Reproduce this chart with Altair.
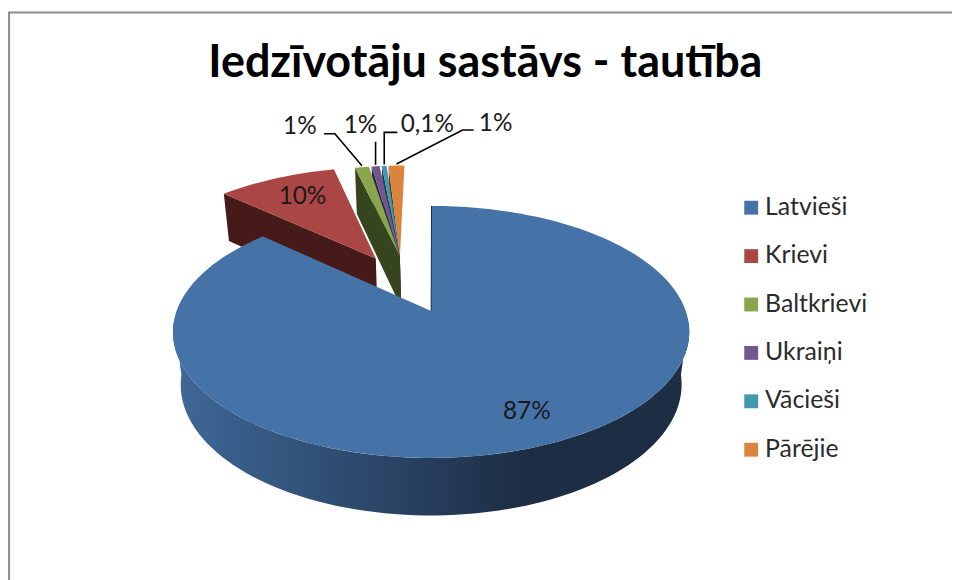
import math
import altair as alt

TITLE = "Iedzīvotāju sastāvs - tautība"
CATEGORIES = ["Latvieši", "Krievi", "Baltkrievi", "Ukraiņi", "Vācieši", "Pārējie"]
SHARES = [86.9, 9.3, 1.1, 0.83, 0.55, 1.39]
PCT_LABELS = ["87%", "10%", "1%", "1%", "0,1%", "1%"]
COLORS = ["#4572A7", "#AA4643", "#89A54E", "#71588F", "#4198AF", "#DB843D"]
DARK = ["#1C2D44", "#451A18", "#36451E", "#2D2339", "#1A3D46", "#5A3518"]

# --- 3D view model (styling only, not data) ---
CX, CY, RX, RY, DEPTH, K, M = 432.0, 311.0, 254.4, 122.5, 54.0, 0.1667, 0.03
EXPLODE = [(-0.01, -0.005), (-0.245, -0.466), (-0.1434, -0.485), (-0.1434, -0.485), (-0.1434, -0.485), (-0.1434, -0.485)]
GAP = [0.0, 0.0, 0.0, 0.75, 0.65, 0.55]


def pt(X, Y, Z=0.0):
    w = 1 - K * Y + M * Z
    return [CX + RX * X / w, CY + (RY * Y + DEPTH * Z) / w]


def rim(i, deg, Z=0.0):
    ox, oy = EXPLODE[i]
    t = math.radians(deg)
    return pt(ox + math.sin(t), oy - math.cos(t), Z)


def hub(i, Z=0.0):
    return pt(EXPLODE[i][0], EXPLODE[i][1], Z)


def poly(name, coords):
    return {"type": "Feature", "properties": {"face": name},
            "geometry": {"type": "Polygon", "coordinates": [coords + [coords[0]]]}}


def line(name, coords):
    return {"type": "Feature", "properties": {"face": name},
            "geometry": {"type": "LineString", "coordinates": coords}}


total = sum(SHARES)
edges = [0.0]
for s in SHARES:
    edges.append(edges[-1] + s / total * 360)


def sector(i):
    a, b = edges[i] + GAP[i], edges[i + 1]
    n = max(4, int((b - a) / 1.5))
    return [hub(i)] + [rim(i, a + (b - a) * j / n) for j in range(n + 1)]


def cut(i):
    a = edges[i] + GAP[i]
    return [rim(i, a), hub(i), hub(i, 1), rim(i, a, 1)]


dark_names = [c + " (mala)" for c in CATEGORIES]
faces = []
for i in [1, 5, 4, 3, 2]:
    faces.append(poly(dark_names[i], cut(i)))
    faces.append(poly(CATEGORIES[i], sector(i)))

wall_top = [rim(0, 95 + j) for j in range(0, 171, 2)]
wall_bot = [rim(0, 265 - j, 1) for j in range(0, 171, 2)]
wall = [poly("wall", wall_top + wall_bot)]
blue_top = [poly(CATEGORIES[0], sector(0))]

color = alt.Color(
    "properties.face:N",
    scale=alt.Scale(domain=CATEGORIES + dark_names, range=COLORS + DARK),
    legend=alt.Legend(
        values=CATEGORIES, title=None, orient="none",
        legendX=730.8, legendY=187.3,
        symbolType="square", symbolSize=193, symbolStrokeWidth=0,
        labelFont="Lato", labelFontSize=24.8, labelColor="#2b2b2b",
        labelOffset=1.5, rowPadding=22.4, symbolOpacity=1,
    ),
)

face_layer = alt.Chart(alt.Data(values=faces)).mark_geoshape(strokeWidth=0).encode(color=color)
wall_layer = alt.Chart(alt.Data(values=wall)).mark_geoshape(
    strokeWidth=0,
    fill=alt.LinearGradient(
        gradient="linear", x1=0, x2=1, y1=0, y2=0,
        stops=[alt.GradientStop(color="#3F6899", offset=0),
               alt.GradientStop(color="#2A4465", offset=0.42),
               alt.GradientStop(color="#1C2D44", offset=0.68),
               alt.GradientStop(color="#1C2D44", offset=1)]),
)
top_layer = alt.Chart(alt.Data(values=blue_top)).mark_geoshape(strokeWidth=0).encode(color=color)

seam = alt.Chart(alt.Data(values=[line("seam", [rim(0, 0), hub(0)])])).mark_geoshape(
    filled=False, stroke="#1C2D44", strokeWidth=1)

# chart frame
frame = alt.Chart(alt.Data(values=[line("f", [[8, 600], [8, 12.5], [1000, 12.5]])])).mark_geoshape(
    filled=False, stroke="#8C8C8C", strokeWidth=2)

# leader lines for the small slices: from the slice rim, through an elbow, toward the label
ELBOW = {2: [(-27, -32), (-38, -32)], 3: [(0, -23)], 4: [(0, -32), (13, -32)], 5: [(66, -34), (77, -34)]}
LABEL_AT = {2: (-62, -39), 3: (-15, -39), 4: (43, -39), 5: (99, -40)}
leaders, text_rows = [], []
for i in [2, 3, 4, 5]:
    mid = (edges[i] + GAP[i] + edges[i + 1]) / 2
    a = rim(i, mid)
    a = [a[0], a[1] - 1.5]
    leaders.append(line("l", [a] + [[a[0] + dx, a[1] + dy] for dx, dy in ELBOW[i]]))
    text_rows.append({"t": PCT_LABELS[i], "lon": a[0] + LABEL_AT[i][0], "lat": a[1] + LABEL_AT[i][1]})

text_rows.append({"t": PCT_LABELS[0], "lon": 525.0, "lat": 411.0})
text_rows.append({"t": PCT_LABELS[1], "lon": 301.0, "lat": 197.0})

leader_layer = alt.Chart(alt.Data(values=leaders)).mark_geoshape(
    filled=False, stroke="#000000", strokeWidth=1.6)
text_layer = alt.Chart(alt.Data(values=text_rows)).mark_text(
    font="Lato", fontSize=24.3, color="#1a1a1a", align="center", baseline="middle"
).encode(longitude="lon:Q", latitude="lat:Q", text="t:N")

chart = alt.layer(frame, face_layer, wall_layer, top_layer, seam, leader_layer, text_layer).project(
    type="identity", scale=1.0015, translate=[-6.94, -7.91]
).properties(
    width=944, height=572,
    padding=0,
    autosize=alt.AutoSizeParams(type="none"),
    background="white",
    title=alt.TitleParams(TITLE, font="Lato", fontWeight="bold", fontSize=44.9, color="#000000",
                          anchor="start", dx=200.3, offset=-78.75, orient="top"),
).configure_view(stroke=None)

chart.save("out.html", embed_options={"renderer": "svg", "actions": False})
